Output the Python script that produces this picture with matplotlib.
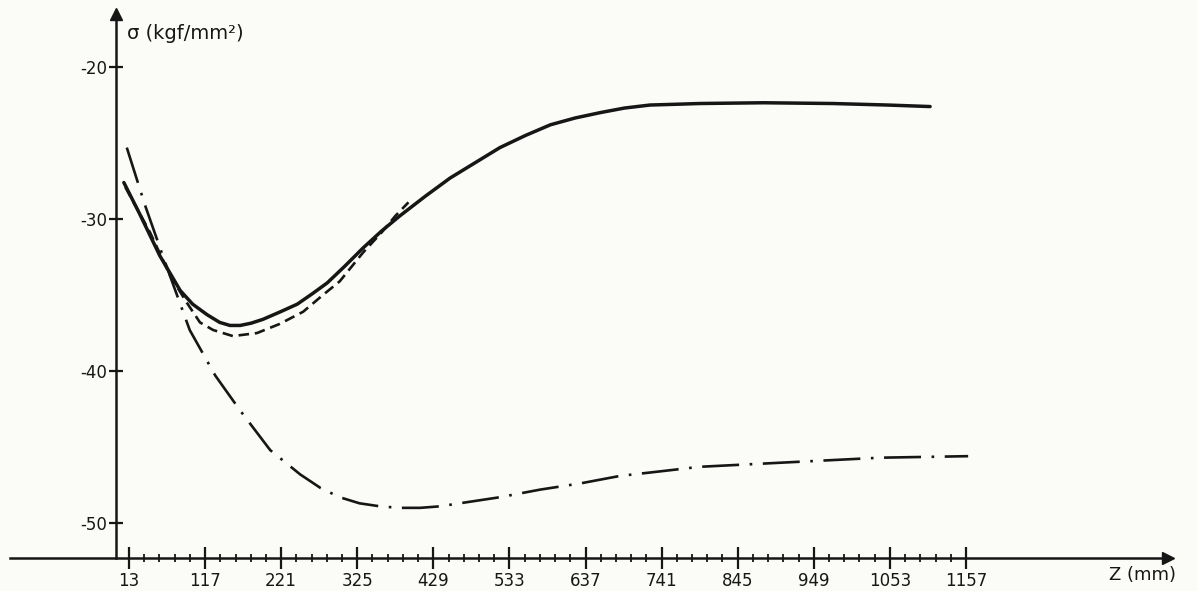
import matplotlib.pyplot as plt

# values
z_ticks = [13, 117, 221, 325, 429, 533, 637, 741, 845, 949, 1053, 1157]
sigma_ticks = [-20, -30, -40, -50]

# solid curve
z_solid = [6, 28, 55, 83, 100, 120, 137, 151, 165, 180, 196, 220, 243, 264, 284, 308, 333, 358, 383, 418, 452,
           486, 520, 555, 589, 623, 657, 690, 725, 760, 793, 880, 975, 1050, 1108]
s_solid = [-27.6, -29.7, -32.4, -34.7, -35.6, -36.3, -36.8, -37.0, -37.0, -36.85, -36.6, -36.1, -35.6, -34.9,
           -34.2, -33.1, -31.9, -30.8, -29.8, -28.5, -27.3, -26.3, -25.3, -24.5, -23.8, -23.35, -23.0, -22.7,
           -22.5, -22.45, -22.4, -22.35, -22.4, -22.5, -22.6]

# short dashed curve (just under the solid one)
z_dash = [8, 42, 69, 92, 110, 128, 155, 188, 219, 251, 278, 301, 333, 358, 377, 395]
s_dash = [-27.9, -30.9, -33.7, -35.5, -36.8, -37.3, -37.7, -37.5, -36.9, -36.1, -35.0, -34.1, -32.2, -30.9,
          -29.8, -28.9]

# long dash-dot curve (lower one)
z_long = [10, 35, 62, 96, 131, 165, 206, 247, 275, 301, 328, 356, 383, 411, 438, 465, 520, 575, 629, 684, 739,
          793, 875, 957, 1040, 1160]
s_long = [-25.3, -29.1, -32.8, -37.3, -40.3, -42.6, -45.2, -46.8, -47.7, -48.3, -48.7, -48.9, -49.0, -49.0,
          -48.9, -48.7, -48.3, -47.8, -47.4, -46.9, -46.6, -46.3, -46.1, -45.9, -45.7, -45.6]

ink = '#161616'
paper = '#fbfcf7'

fig = plt.figure(figsize=(11.97, 5.91), dpi=100, facecolor=paper)
ax = fig.add_axes([0, 0, 1, 1], facecolor=paper)
ax.set_xlim(-163.3, 1472.8)
ax.set_ylim(-54.47, -15.59)

x_axis_y = -52.3
y_axis_x = -5

ax.plot(z_solid, s_solid, color=ink, lw=2.5, solid_capstyle='round', solid_joinstyle='round')
ax.plot(z_dash, s_dash, color=ink, lw=1.9, linestyle=(0, (4, 2.2)))
ax.plot(z_long, s_long, color=ink, lw=1.9, linestyle=(0, (14, 4, 1, 4)))

# axes drawn like the hand sketch
for side in ['top', 'right']:
    ax.spines[side].set_visible(False)
ax.spines['left'].set_position(('data', y_axis_x))
ax.spines['bottom'].set_position(('data', x_axis_y))
ax.spines['left'].set_bounds(x_axis_y, -16.8)
ax.spines['bottom'].set_bounds(-150, 1425)
for side in ['left', 'bottom']:
    ax.spines[side].set_linewidth(1.8)
    ax.spines[side].set_color(ink)

ax.plot([y_axis_x], [-16.5], marker='^', ms=8, color=ink, clip_on=False)
ax.plot([1433], [x_axis_y], marker='>', ms=8, color=ink, clip_on=False)

ax.set_xticks(z_ticks)
ax.set_xticklabels([str(v) for v in z_ticks])
minor = [z_ticks[0] + 104 * i / 5 for i in range(56)]
ax.set_xticks(minor, minor=True)
ax.set_yticks(sigma_ticks)
ax.set_yticklabels(['-20', '-30', '-40', '-50'])

ax.tick_params(axis='x', which='major', direction='inout', length=16, width=1.6, color=ink,
               labelsize=12, pad=2, labelcolor=ink)
ax.tick_params(axis='x', which='minor', direction='inout', length=6, width=1.3, color=ink)
ax.tick_params(axis='y', which='major', direction='inout', length=10, width=1.6, color=ink,
               labelsize=12, pad=1, labelcolor=ink)

ax.text(10, -17.8, 'σ (kgf/mm²)', fontsize=14, color=ink, ha='left', va='center')
ax.text(1352, -53.45, 'Z (mm)', fontsize=13, color=ink, ha='left', va='center')

fig.savefig('out.png', dpi=100, facecolor=paper)
